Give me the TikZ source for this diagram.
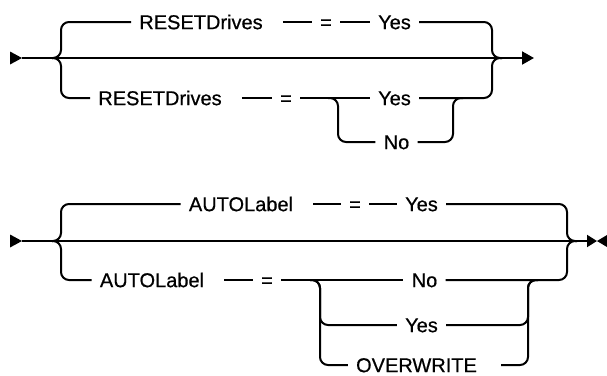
\documentclass[tikz,border=0pt]{standalone}
\usepackage{fontspec}
\setmainfont{Liberation Sans}[FakeBold=0.6]
\usetikzlibrary{arrows.meta,positioning,calc}

\begin{document}
\begin{tikzpicture}[
  x=0.75pt, y=-0.75pt,
  kw/.style={font=\fontsize{15}{18}\selectfont, inner xsep=6pt, inner ysep=0pt,
             text height=10.7pt, text depth=0pt},
  rail/.style={line width=1.5pt, rounded corners=6pt},
  >={Triangle[length=9pt,width=9.75pt]}
]
\useasboundingbox (0,0) rectangle (607,375);

% ---- RESETDrives ----
\coordinate (s1) at (22,58);
\coordinate (j1l) at (52,58);
\coordinate (j1r) at (502,58);
\coordinate (e1) at (534,58);

\node[kw] (rd1) at (201,22) {RESETDrives};
\node[kw] (eq1) at (326,22) {=};
\node[kw] (y1) at (394.5,22) {Yes};

\node[kw] (rd2) at (160,98) {RESETDrives};
\node[kw] (eq2) at (286,98) {=};
\node[kw] (y2) at (394.5,98) {Yes};
\node[kw] (n1) at (396.5,142) {No};
\coordinate (k1l) at (328,98);
\coordinate (k1r) at (463,98);

% start marker and main line
\fill (s1) -- ++(-12,-6.5) -- ++(0,13) -- cycle;
\draw[rail, ->] (s1) -- (e1);

% default branch
\draw[rail] (j1l) -- ++(9,0) |- (rd1.west);
\draw[rail] ([xshift=9pt]rd1.east) -- (eq1.west);
\draw[rail] (eq1.east) -- (y1.west);
\draw[rail] (y1.east) -| ([xshift=-7.5pt]j1r) -- (j1r);

% choice branch
\draw[rail] (j1l) -- ++(9,0) |- (rd2.west);
\draw[rail] ([xshift=9pt]rd2.east) -- (eq2.west);
\draw[rail] (eq2.east) -- (y2.west);
\draw[rail] (y2.east) -| ([xshift=-7.5pt]j1r) -- (j1r);
\draw[rail] (k1l) -- ++(10,0) |- (n1.west);
\draw[rail] (n1.east) -| ([xshift=-7.5pt]k1r) -- (k1r);

% ---- AUTOLabel ----
\coordinate (s2) at (22,241);
\coordinate (j2l) at (52,241);
\coordinate (j2r) at (577,241);
\coordinate (e2) at (597,241);
\coordinate (e2b) at (607,241);

\node[kw] (al1) at (241,204) {AUTOLabel};
\node[kw] (eq3) at (355,204) {=};
\node[kw] (y3) at (421.5,204) {Yes};

\node[kw] (al2) at (152,280) {AUTOLabel};
\node[kw] (eq4) at (267,280) {=};
\node[kw] (n2) at (424.5,280) {No};
\node[kw] (y4) at (421.5,325) {Yes};
\node[kw] (ow) at (416.5,365) {OVERWRITE};
\coordinate (k2l) at (310,280);
\coordinate (k2r) at (538,280);

% start marker, main line and end marker
\fill (s2) -- ++(-12,-6.5) -- ++(0,13) -- cycle;
\draw[rail, -{Triangle[length=7.5pt,width=9pt]}] (s2) -- (e2);
\fill (e2b) -- ++(-10,0) -- ++(10,-6) -- cycle;
\fill (e2b) -- ++(-10,0) -- ++(10,6) -- cycle;

% default branch
\draw[rail] (j2l) -- ++(9,0) |- (al1.west);
\draw[rail] ([xshift=9pt]al1.east) -- (eq3.west);
\draw[rail] (eq3.east) -- (y3.west);
\draw[rail] (y3.east) -| ([xshift=-7.5pt]j2r) -- (j2r);

% choice branch
\draw[rail] (j2l) -- ++(9,0) |- (al2.west);
\draw[rail] ([xshift=9pt]al2.east) -- (eq4.west);
\draw[rail] (eq4.east) -- (n2.west);
\draw[rail] (n2.east) -| ([xshift=-7.5pt]j2r) -- (j2r);
\draw[rail] (k2l) -- ++(10,0) |- (y4.west);
\draw[rail] (k2l) -- ++(10,0) |- (ow.west);
\draw[rail] (y4.east) -| ([xshift=-7.5pt]k2r) -- (k2r);
\draw[rail] ([xshift=12pt]ow.east) -| ([xshift=-7.5pt]k2r) -- (k2r);

\end{tikzpicture}
\end{document}
